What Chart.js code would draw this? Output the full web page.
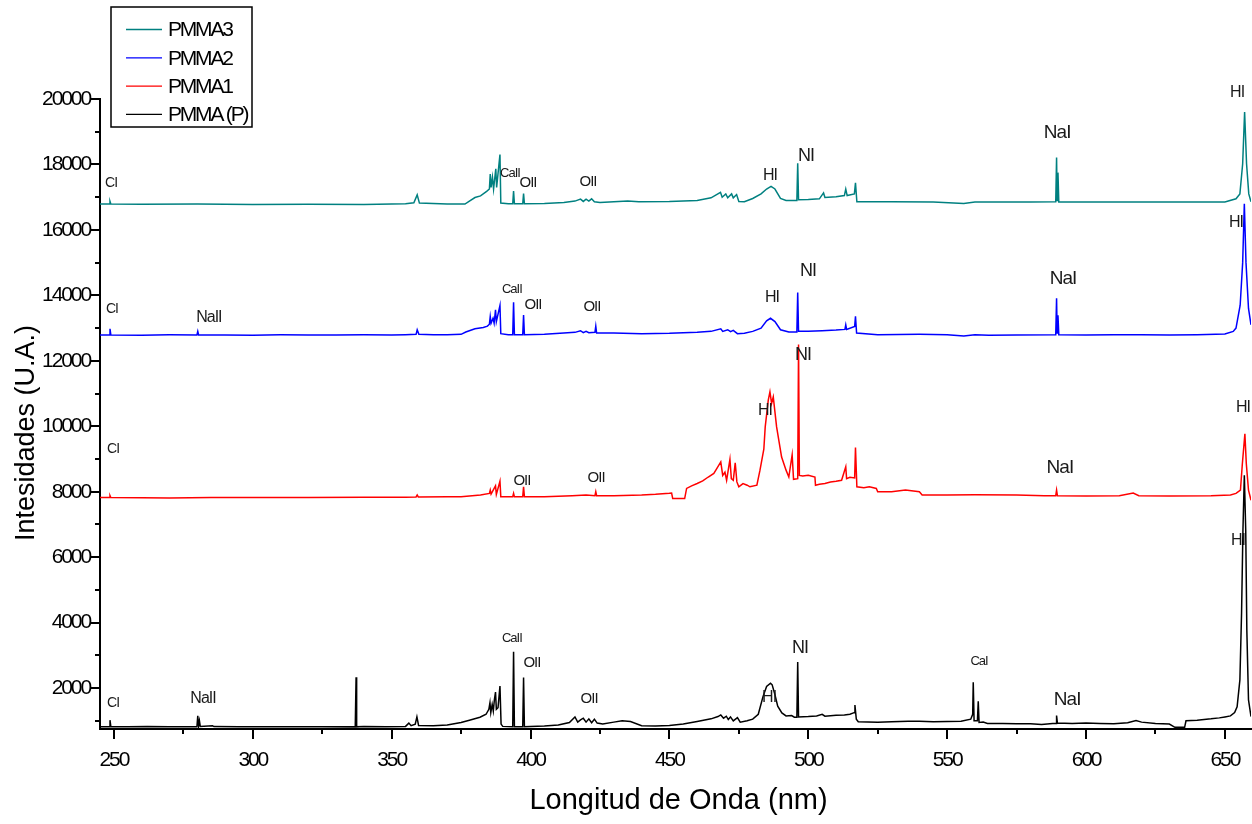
<!DOCTYPE html>
<html><head><meta charset="utf-8">
<script src="https://cdn.jsdelivr.net/npm/chart.js@4.4.0/dist/chart.umd.min.js"></script>
<style>html,body{margin:0;padding:0;background:#fff;overflow:hidden}canvas{display:block}</style>
</head><body><canvas id="c" width="1252" height="824"></canvas>
<script>
const seriesNames = ['PMMA3', 'PMMA2', 'PMMA1', 'PMMA (P)'];
const xTickValues = [250, 300, 350, 400, 450, 500, 550, 600, 650];
const yTickValues = [2000, 4000, 6000, 8000, 10000, 12000, 14000, 16000, 18000, 20000];
const xTitle = 'Longitud de Onda (nm)';
const yTitle = 'Intesidades (U.A.)';

// [wavelength nm, intensity]
const pmma3 = [[245,16790],[248.3,16790],[248.6,16870],[248.9,16790],[260,16785],[280,16790],[300,16780],[320,16785],[340,16780],[355,16800],[358,16830],[359.2,17070],[360,16820],[370,16790],[376.4,16790],[378,16880],[380,16990],[382,17040],[384.2,17180],[385.2,17250],[385.5,17710],[385.8,17300],[386.3,17610],[386.7,17250],[387.5,17870],[387.8,17300],[389.0,18300],[389.3,16820],[392,16800],[393.6,16800],[393.9,17190],[394.2,16800],[397.2,16800],[397.5,17110],[397.8,16800],[405,16810],[412,16840],[416,16880],[418,16940],[419,16870],[420,16940],[421,16880],[422,16950],[423,16860],[425,16840],[430,16860],[435,16880],[439,16860],[450,16870],[460,16900],[465,16980],[468.4,17150],[469,17000],[470.3,17100],[471,16980],[472.4,17100],[473,16980],[474.2,17080],[475,16870],[477,16860],[480,16960],[483,17100],[485,17250],[486.6,17330],[488,17250],[490,16960],[492,16900],[495.9,16900],[496.2,18040],[496.5,16920],[500,16930],[504,16950],[505.5,17130],[506,16990],[510,17010],[513,17050],[513.5,17250],[514,17050],[516.6,17100],[517.0,17440],[517.5,16860],[530,16860],[545,16850],[556,16810],[560,16850],[580,16850],[589.1,16860],[589.4,18210],[589.6,16900],[589.9,17750],[590.2,16850],[600,16850],[620,16850],[640,16850],[650,16850],[654,16950],[655.4,17100],[656.4,18020],[657.1,19600],[657.8,18020],[658.6,17100],[659.4,16860]];
const pmma2 = [[245,12790],[248.3,12790],[248.6,12980],[248.9,12790],[260,12785],[270,12795],[279.9,12790],[280.2,12900],[280.5,12790],[290,12790],[300,12785],[310,12795],[320,12790],[330,12790],[340,12795],[350,12790],[355,12800],[358.8,12810],[359.2,12950],[359.8,12810],[365,12800],[370,12800],[375,12810],[376.7,12880],[380,12980],[383,13020],[384.5,13060],[385.2,13120],[385.5,13350],[385.8,13150],[386.5,13300],[386.9,13150],[387.4,13560],[387.7,13200],[389.0,13690],[389.3,12830],[392,12800],[393.6,12800],[393.9,13790],[394.2,12800],[397.2,12800],[397.5,13400],[397.8,12800],[405,12810],[412,12850],[416,12870],[418,12920],[419,12860],[420,12900],[421,12860],[423.2,12870],[423.5,13060],[423.8,12850],[430,12850],[440,12830],[450,12840],[460,12870],[465,12900],[468.5,12980],[469.2,12900],[471,12950],[472,12890],[473,12930],[474.5,12830],[477,12840],[480,12900],[483,13000],[485,13220],[486.4,13300],[488,13200],[490,12950],[493,12880],[495.9,12880],[496.2,14090],[496.5,12900],[500,12900],[505,12920],[510,12940],[513.2,12960],[513.5,13100],[513.8,12960],[516.7,13050],[517.0,13360],[517.4,12850],[525,12800],[540,12810],[550,12800],[556,12760],[560,12800],[565,12780],[575,12790],[589.1,12800],[589.4,13910],[589.6,12850],[589.9,13390],[590.2,12800],[600,12790],[610,12800],[620,12800],[630,12790],[640,12800],[650,12820],[653,12900],[654,13000],[655.5,13700],[656.4,15000],[657.0,16800],[657.6,15000],[658.5,13600],[659.4,13100]];
const pmma1 = [[245,7820],[248.3,7820],[248.6,7880],[248.9,7820],[260,7815],[270,7810],[285,7820],[300,7820],[320,7825],[340,7830],[355,7835],[358.8,7840],[359.2,7900],[359.6,7840],[370,7845],[375,7850],[382,7900],[385.2,7950],[385.5,8050],[385.8,7930],[387.4,8180],[387.7,7920],[389.0,8320],[389.3,7850],[393.6,7850],[393.9,7950],[394.2,7850],[397.2,7850],[397.5,8150],[397.8,7850],[405,7850],[415,7880],[420,7900],[423.2,7880],[423.5,8000],[423.8,7880],[430,7880],[440,7900],[445,7920],[450,7950],[450.8,7960],[451.2,7790],[455.5,7790],[456.2,8100],[458,8180],[460,8250],[462,8330],[464,8450],[466,8560],[467,8700],[468.5,8910],[469.2,8500],[470,8600],[470.6,8350],[471.8,8990],[472.3,8400],[473,8350],[473.7,8880],[474.3,8300],[475,8150],[476.5,8250],[478,8200],[479,8150],[481.5,8200],[482.6,8650],[484,9300],[484.5,9980],[485.6,10800],[486.2,11050],[486.8,10700],[487.4,10900],[488.6,9980],[490.4,9060],[492,8660],[493,8450],[494.2,9130],[494.7,8380],[496.2,8400],[496.5,12500],[496.8,8500],[498,8480],[500,8500],[502.4,8450],[502.6,8200],[504,8230],[506,8250],[508,8300],[510,8320],[512,8350],[513.5,8760],[513.8,8400],[515,8440],[516.7,8420],[517.0,9350],[517.5,8150],[520,8120],[522,8150],[524.5,8100],[525,8000],[530,8000],[535,8050],[540,8000],[541,7900],[550,7900],[560,7910],[575,7900],[585,7880],[589.1,7880],[589.4,8050],[589.7,7880],[600,7870],[612,7880],[617,7960],[619,7880],[630,7870],[645,7880],[652,7900],[654,7950],[655.6,8050],[656.3,8870],[657.2,9770],[657.7,8870],[658.5,8050],[659.4,7740]];
const pmmaP = [[245,820],[248.3,820],[248.6,1020],[248.9,820],[255,815],[262,825],[270,820],[276,815],[279.9,820],[280.2,1150],[280.5,850],[280.8,1000],[281.1,830],[285.5,850],[286,825],[295,815],[305,820],[315,815],[325,820],[336.9,815],[337.2,2330],[337.3,1400],[337.5,815],[340,830],[348,820],[355,830],[356.2,930],[357,850],[358.5,900],[359.1,1120],[359.7,860],[365,850],[370,870],[375,950],[378,1020],[381.8,1110],[384,1200],[385,1350],[385.4,1550],[385.7,1250],[386.2,1500],[386.6,1300],[387,1650],[387.4,1880],[387.7,1350],[388.3,1400],[389.0,2060],[389.4,900],[390,830],[393.6,820],[393.9,3110],[394.2,820],[397.2,820],[397.5,2320],[397.8,820],[400,830],[405,840],[410,870],[414,950],[416,1120],[417,960],[418,1030],[419,1080],[420,960],[421,1060],[422,940],[423,1050],[424,930],[426,900],[430,960],[433,1000],[436,980],[440,850],[445,840],[450,860],[455,900],[460,980],[465,1060],[467.5,1130],[468.5,1180],[469.5,1080],[470.5,1140],[471.2,1040],[472,1120],[473,1000],[474.5,1100],[475.5,960],[478,1000],[480,1050],[482,1200],[483.7,1740],[485,2050],[486.4,2150],[487,2100],[488,1800],[489,1450],[490.5,1240],[492,1150],[494,1160],[495,1110],[495.9,1110],[496.2,2800],[496.5,1120],[500,1130],[503,1150],[505,1200],[506,1140],[510,1170],[513,1180],[515,1200],[516.5,1250],[516.8,1480],[517.3,1050],[518,970],[525,960],[530,970],[536,990],[540,990],[545,970],[550,980],[555,990],[558.5,1050],[559.2,1200],[559.4,2175],[559.7,1000],[560.9,1000],[561.2,1600],[561.5,950],[563,960],[564.5,920],[570,920],[575,910],[580,910],[584,890],[588,920],[589.2,920],[589.4,1160],[589.7,930],[595,920],[600,930],[605,920],[610,910],[615,940],[618,1010],[620,960],[625,920],[630,900],[632,800],[635.5,800],[636,1000],[640,1020],[645,1060],[648,1090],[650,1120],[652,1150],[653.5,1250],[654.4,1430],[655.4,2250],[656.0,4290],[656.5,6830],[657.0,8500],[657.5,6830],[657.9,3770],[658.5,1640],[659.4,1130]];

// peak annotations: [text, wavelength, intensity]
const labels3 = [['CI',249.0,17440],['CaII',392.6,17740],['OII',399.1,17440],['OII',420.7,17470],['HI',486.2,17650],['NI',499.2,18260],['NaI',589.6,18960],['HI',654.4,20190]];
const labels2 = [['CI',249.3,13590],['NaII',284.2,13310],['CaII',393.3,14170],['OII',400.9,13710],['OII',422.1,13650],['HI',486.9,13920],['NI',499.9,14750],['NaI',591.7,14500],['HI',654.0,16210]];
const labels1 = [['CI',249.7,9310],['OII',396.9,8330],['OII',423.6,8420],['HI',484.4,10470],['NI',498.1,12180],['NaI',590.6,8730],['HI',656.5,10560]];
const labelsP = [['CI',249.7,1545],['NaII',282.1,1670],['CaII',393.3,3530],['OII',400.5,2770],['OII',421.1,1670],['HI',485.9,1700],['NI',497.0,3225],['CaI',561.5,2800],['NaI',593.2,1640],['HI',654.7,6500]];

const seriesColors = ['#008080', '#0000ff', '#ff0000', '#000000'];
const labelFontSize = {CI:14, NaII:16, CaII:13, OII:15, HI:16, NI:18, NaI:19, CaI:13};
const FONT = '"Liberation Sans", Arial, sans-serif';

const seriesData = [pmma3, pmma2, pmma1, pmmaP];
const seriesLabels = [labels3, labels2, labels1, labelsP];

Chart.defaults.font.family = FONT;
Chart.defaults.color = '#000';

const deco = {
  id: 'deco',
  beforeDraw(chart) { chart.ctx.letterSpacing = '-2.1px'; },
  afterDraw(chart) {
    const {ctx, chartArea: a} = chart;
    const xs = chart.scales.x, ys = chart.scales.y;
    ctx.save();
    // major + minor ticks
    ctx.strokeStyle = '#000'; ctx.lineWidth = 2;
    const xAll = [];
    xTickValues.forEach((v, i) => { xAll.push([v, 10]); if (i < xTickValues.length - 1) xAll.push([(v + xTickValues[i + 1]) / 2, 5]); });
    xAll.forEach(([v, L]) => { const p = Math.round(xs.getPixelForValue(v)); ctx.beginPath(); ctx.moveTo(p, a.bottom); ctx.lineTo(p, a.bottom + L); ctx.stroke(); });
    const yAll = [[yTickValues[0] / 2, 5]];
    yTickValues.forEach((v, i) => { yAll.push([v, 10]); if (i < yTickValues.length - 1) yAll.push([(v + yTickValues[i + 1]) / 2, 5]); });
    yAll.forEach(([v, L]) => { const p = Math.round(ys.getPixelForValue(v)); ctx.beginPath(); ctx.moveTo(a.left, p); ctx.lineTo(a.left - L, p); ctx.stroke(); });

    // peak labels
    ctx.letterSpacing = '-1px';
    ctx.fillStyle = '#1a1a1a'; ctx.textAlign = 'center'; ctx.textBaseline = 'middle';
    seriesLabels.forEach(list => list.forEach(([t, wl, val]) => {
      ctx.font = (labelFontSize[t] || 15) + 'px ' + FONT;
      ctx.fillText(t, xs.getPixelForValue(wl), ys.getPixelForValue(val));
    }));

    // axis titles
    ctx.letterSpacing = '0px';
    ctx.fillStyle = '#000';
    ctx.font = '29px ' + FONT;
    ctx.fillText(xTitle, (a.left + a.right) / 2 + 3, a.bottom + 72);
    ctx.save();
    ctx.translate(27, (a.top + a.bottom) / 2 + 19);
    ctx.rotate(-Math.PI / 2);
    ctx.font = '27px ' + FONT;
    ctx.fillText(yTitle, 0, 0);
    ctx.restore();

    // legend
    const bx = 111, by = 7, bw = 141, bh = 120;
    ctx.fillStyle = '#fff'; ctx.fillRect(bx, by, bw, bh);
    ctx.strokeStyle = '#000'; ctx.lineWidth = 1.5; ctx.strokeRect(bx, by, bw, bh);
    ctx.font = '21px ' + FONT; ctx.letterSpacing = '-2.2px';
    ctx.textAlign = 'left';
    chart.data.datasets.forEach((ds, i) => {
      const ry = 29.5 + i * 28.3;
      ctx.strokeStyle = ds.borderColor; ctx.lineWidth = 1.3;
      ctx.beginPath(); ctx.moveTo(126, ry); ctx.lineTo(162, ry); ctx.stroke();
      ctx.fillStyle = '#000';
      ctx.fillText(ds.label, 168, ry + 1);
    });
    ctx.restore();
  }
};

new Chart(document.getElementById('c'), {
  type: 'line',
  data: {
    datasets: seriesNames.map((name, i) => ({
      label: name,
      data: seriesData[i].map(([x, y]) => ({x, y})),
      borderColor: seriesColors[i],
      borderWidth: 1.5,
      pointRadius: 0,
      tension: 0,
      fill: false
    }))
  },
  options: {
    responsive: false,
    animation: false,
    devicePixelRatio: 1,
    parsing: false,
    layout: {padding: {top: 99, right: 1, left: 0, bottom: 0}},
    plugins: {legend: {display: false}, tooltip: {enabled: false}, title: {display: false}},
    scales: {
      x: {
        type: 'linear', min: 245, max: 659.4,
        grid: {display: false, drawTicks: false},
        border: {display: true, width: 2, color: '#000'},
        ticks: {font: {size: 21}, color: '#000', padding: 19, maxRotation: 0, autoSkip: false, callback: v => String(v)},
        afterBuildTicks: s => { s.ticks = xTickValues.map(v => ({value: v})); },
        afterFit: s => { s.height = 95; s.paddingLeft = 0; s.paddingRight = 0; }
      },
      y: {
        type: 'linear', min: 750, max: 20000,
        grid: {display: false, drawTicks: false},
        border: {display: true, width: 2, color: '#000'},
        ticks: {font: {size: 21}, color: '#000', padding: 10, autoSkip: false, callback: v => String(v)},
        afterBuildTicks: s => { s.ticks = yTickValues.map(v => ({value: v})); },
        afterFit: s => { s.width = 100; s.paddingTop = 0; s.paddingBottom = 0; }
      }
    }
  },
  plugins: [deco]
});
</script>
</body></html>
